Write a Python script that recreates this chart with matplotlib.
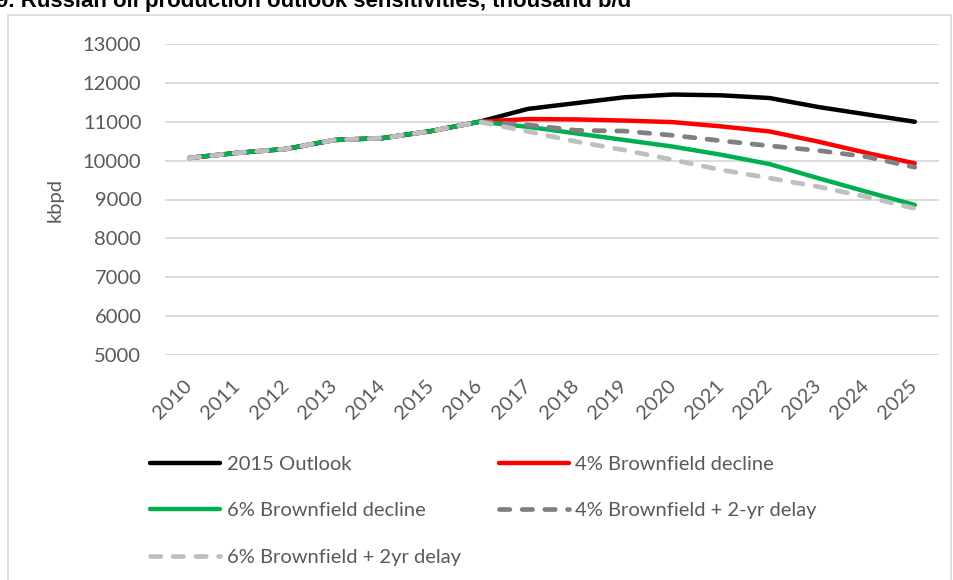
import matplotlib
matplotlib.use("Agg")
import matplotlib.pyplot as plt
from matplotlib.patches import Rectangle

years = list(range(2010, 2026))

# shared history 2010-2016
history = [10070, 10200, 10300, 10530, 10580, 10760, 11000]

outlook_2015 = history + [11330, 11480, 11630, 11700, 11680, 11610, 11380, 11190, 11000]
bf4_decline = history + [11070, 11060, 11030, 10990, 10880, 10750, 10490, 10200, 9930]
bf6_decline = history + [10870, 10700, 10530, 10360, 10150, 9910, 9550, 9200, 8860]
bf4_delay = history + [10920, 10780, 10760, 10650, 10510, 10380, 10260, 10100, 9830]
bf6_delay = history + [10750, 10490, 10270, 10020, 9760, 9550, 9330, 9070, 8770]

series_labels = [
    "2015 Outlook",
    "4% Brownfield decline",
    "6% Brownfield decline",
    "4% Brownfield + 2-yr delay",
    "6% Brownfield + 2yr delay",
]
series_values = [outlook_2015, bf4_decline, bf6_decline, bf4_delay, bf6_delay]
series_colors = ["#000000", "#FF0000", "#00B050", "#808080", "#BFBFBF"]
series_dashed = [False, False, False, True, True]

y_ticks = list(range(5000, 14000, 1000))

TEXT = "#595959"
GRID = "#D9D9D9"
FONT = "Lato"

fig = plt.figure(figsize=(9.54, 5.80), dpi=100)

# outer chart frame
fig.patches.append(Rectangle((8 / 954, -0.05), (951 - 8) / 954, 1.05 - 15 / 580,
                             transform=fig.transFigure, fill=False,
                             edgecolor=GRID, linewidth=1.2))

# title is clipped at the top edge in the original
fig.text(-4 / 954, 1 - 7 / 580, "9. Russian oil production outlook sensitivities, thousand b/d",
         fontsize=16, fontweight="bold", family="Liberation Sans", va="baseline", ha="left")

ax = fig.add_axes([165 / 954, 1 - 355 / 580, (939 - 165) / 954, (355 - 44) / 580])

handles = {}
for label, values, color, dashed in zip(series_labels, series_values, series_colors, series_dashed):
    if dashed:
        line, = ax.plot(years, values, color=color, linewidth=3.4, dashes=(2.2, 2.6),
                        dash_capstyle="round", solid_capstyle="round", label=label)
    else:
        line, = ax.plot(years, values, color=color, linewidth=3.2,
                        solid_capstyle="round", solid_joinstyle="round", label=label)
    handles[label] = line

ax.set_xlim(2009.5, 2025.5)
ax.set_ylim(5000, 13000)
ax.set_yticks(y_ticks)
ax.set_xticks(years)
ax.set_yticklabels([str(v) for v in y_ticks], fontsize=14.5, color=TEXT, family=FONT)
ax.set_xticklabels([str(y) for y in years], fontsize=14.5, color=TEXT, family=FONT,
                   rotation=45, ha="right", va="center", rotation_mode="anchor")
ax.tick_params(axis="both", length=0)
ax.tick_params(axis="y", pad=17)
ax.tick_params(axis="x", pad=20)
ax.grid(axis="y", color=GRID, linewidth=1.3)
ax.set_axisbelow(True)
for s in ax.spines.values():
    s.set_visible(False)
ax.set_ylabel("kbpd", fontsize=14.5, color=TEXT, family=FONT, labelpad=14)

# legend: column-major order so rows read like the original
order = [series_labels[i] for i in (0, 2, 4, 1, 3)]
leg = fig.legend([handles[k] for k in order], order, ncol=2, frameon=False,
                 loc="upper left", bbox_to_anchor=(150 / 954, 1 - 456 / 580),
                 borderaxespad=0, borderpad=0, handlelength=3.5, handletextpad=0.3,
                 columnspacing=1.9, labelspacing=1.45,
                 prop={"family": FONT, "size": 14.5})
for t in leg.get_texts():
    t.set_color(TEXT)

fig.savefig("out.png", dpi=100)
